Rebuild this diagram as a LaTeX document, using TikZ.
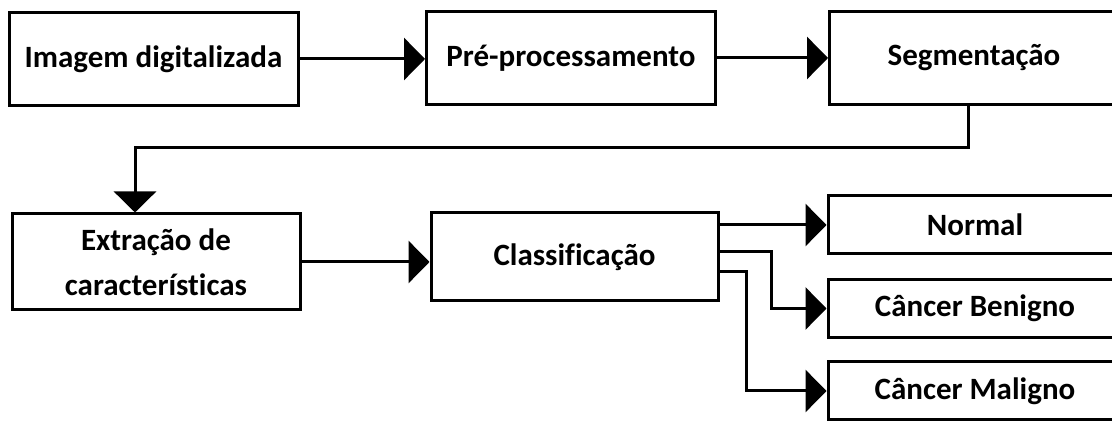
\documentclass[tikz,border=0pt]{standalone}
\usepackage{fontspec}
\setmainfont{Carlito}[Ligatures=CommonOff]
\usetikzlibrary{arrows.meta, positioning, calc}

\begin{document}
\begin{tikzpicture}[
        x=0.5pt, y=-0.5pt,
        font=\fontsize{15.5}{22.5}\selectfont\bfseries,
        box/.style={draw=black, line width=1.5pt, align=center, inner sep=0pt,
                    minimum width=144.5pt, minimum height=46.5pt},
        outbox/.style={box, minimum width=147pt, minimum height=29pt},
        link/.style={-{Triangle[length=10.5pt, width=21pt]}, black, line width=1.5pt},
      ]
        \clip (0,0) rectangle (1112,421);
        \node[box] (img) at (153.5,59) {Imagem digitalizada};
        \node[box] (pre) at (571,58)   {Pré-processamento};
        \node[box] (seg) at (974,58)   {Segmentação};
        \node[box, minimum width=144pt, minimum height=48pt] (ext) at (156,262)
              {Extração de\\características};
        \node[box, minimum width=143.5pt, minimum height=44pt] (cls) at (574.5,257)
              {Classificação};
        \node[outbox] (nor) at (975,225)   {Normal};
        \node[outbox] (ben) at (975,308.5) {Câncer Benigno};
        \node[outbox] (mal) at (975,391)   {Câncer Maligno};
        \draw[link] (img.east) -- (img.east -| pre.west);
        \draw[link] (pre.east) -- (seg.west);
        \draw[link] ([xshift=-3pt]seg.south) -- ++(0,41.5) -| ([xshift=-10.5pt]ext.north);
        \draw[link] (ext.east) -- (ext.east -| cls.west);
        \draw[link] (cls.east |- nor.west) -- (nor.west);
        \draw[link] ([yshift=2.5pt]cls.east) -- ++(52,0) |- (ben.west);
        \draw[link] ([yshift=-7.5pt]cls.east) -- ++(27,0) |- (mal.west);
      \end{tikzpicture}
\end{document}
